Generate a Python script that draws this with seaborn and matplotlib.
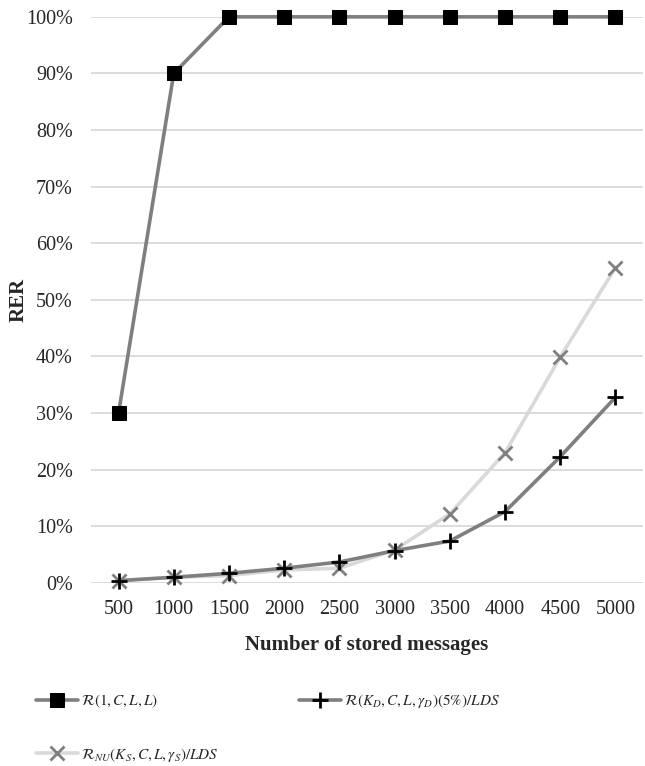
import numpy as np
import pandas as pd
import seaborn as sns
import matplotlib.pyplot as plt
from matplotlib.ticker import PercentFormatter

# data
messages = ['500', '1000', '1500', '2000', '2500', '3000', '3500', '4000', '4500', '5000']
rer_full = [0.30, 0.90, 1.00, 1.00, 1.00, 1.00, 1.00, 1.00, 1.00, 1.00]
rer_kd = [0.004, 0.010, 0.017, 0.026, 0.037, 0.057, 0.074, 0.126, 0.223, 0.328]
rer_nu = [0.004, 0.010, 0.013, 0.023, 0.026, 0.058, 0.122, 0.230, 0.399, 0.557]

lbl_full = r'$\mathcal{R}(1,C,L,L)$'
lbl_kd = r'$\mathcal{R}(K_D,C,L,\gamma_D)(5\%)/LDS$'
lbl_nu = r'$\mathcal{R}_{NU}(K_S,C,L,\gamma_S)/LDS$'

sns.set_style("white")
plt.rcParams['font.family'] = ['Liberation Serif', 'DejaVu Serif']
plt.rcParams['mathtext.fontset'] = 'stix'

fig = plt.figure(figsize=(6.45, 7.66), dpi=100)
ax = fig.add_axes([0.141, 0.239, 0.856, 0.739])

df = pd.DataFrame({'msg': messages, 'full': rer_full, 'kd': rer_kd, 'nu': rer_nu})

sns.lineplot(data=df, x='msg', y='full', ax=ax, color='#7f7f7f', lw=2.6,
             marker='s', markersize=10, markerfacecolor='black', markeredgecolor='black',
             label=lbl_full, clip_on=False, zorder=3)
sns.lineplot(data=df, x='msg', y='nu', ax=ax, color='#d9d9d9', lw=2.6,
             marker='x', markersize=10, markeredgewidth=2, markeredgecolor='#7f7f7f',
             label=lbl_nu, clip_on=False, zorder=4)
sns.lineplot(data=df, x='msg', y='kd', ax=ax, color='#7f7f7f', lw=2.6,
             marker='+', markersize=12, markeredgewidth=2, markeredgecolor='black',
             label=lbl_kd, clip_on=False, zorder=5)

ax.set_ylim(0, 1)
ax.set_xlim(-0.5, len(messages) - 0.5)
ax.set_yticks(np.arange(0, 1.01, 0.1))
ax.yaxis.set_major_formatter(PercentFormatter(1.0, decimals=0))
ax.grid(axis='y', color='#d9d9d9', lw=1.3)
ax.set_axisbelow(True)
for s in ax.spines.values():
    s.set_visible(False)
ax.tick_params(axis='both', length=0, labelsize=14.5, colors='#262626')
ax.tick_params(axis='y', pad=13)
ax.tick_params(axis='x', pad=12)

ax.set_xlabel('Number of stored messages', fontsize=15, fontweight='bold', labelpad=12)
ax.set_ylabel('RER', fontsize=15, fontweight='bold', labelpad=-2)

handles, labels = ax.get_legend_handles_labels()
ax.get_legend().remove()
fig.legend(handles, labels, loc='lower left', bbox_to_anchor=(0.04, -0.011), ncol=2,
           frameon=False, fontsize=11, handlelength=2.7, columnspacing=5.3,
           labelspacing=2.35, handletextpad=0.2, borderpad=0.2)

fig.savefig('out.png', dpi=100)
